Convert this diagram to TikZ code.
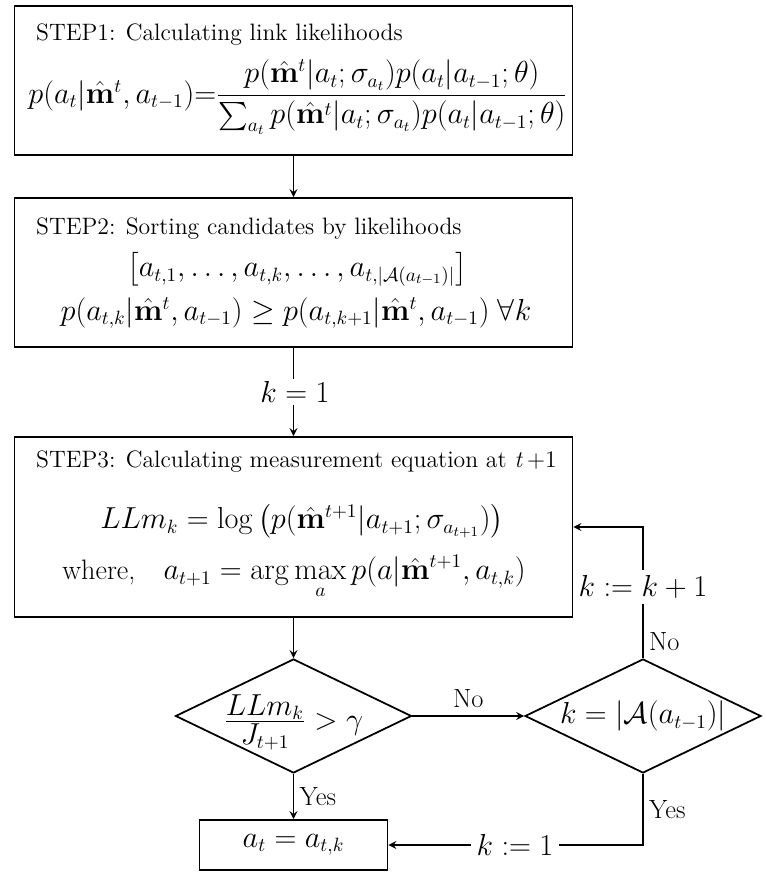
\documentclass[tikz,border=0pt]{standalone}
\usepackage{amsmath,amssymb}
\usetikzlibrary{shapes.geometric}
\begin{document}
\begin{tikzpicture}

      \tikzset{stepbox/.style={draw, line width=1pt, rectangle, minimum width=11.16cm, inner sep=0pt},
               decision/.style={draw, line width=1pt, diamond, aspect=2.07, minimum width=4.72cm, minimum height=2.28cm, inner sep=0pt, font=\fontsize{16}{19}\selectfont},
               txt/.style={font=\fontsize{13.5}{16}\selectfont, inner sep=1pt},
               lbl/.style={font=\fontsize{15}{18}\selectfont, inner sep=1pt},
               mth/.style={font=\fontsize{16}{19}\selectfont, inner sep=1pt},
               every edge/.style={draw, line width=1pt},
               >=stealth}
      \useasboundingbox (0,0) rectangle (15.32,17.44);
%% Boxes
      	\node[stepbox, minimum height=2.98cm] (s1) at (5.87,15.83) {};
      	\node[stepbox, minimum height=2.98cm] (s2) at (5.87,11.99) {};
      	\node[stepbox, minimum height=3.6cm] (s3) at (5.87,6.9) {};
      	\node[decision] (d1) at (5.87,3.12) {\smash{\raisebox{-7.5pt}{$\frac{\textstyle LLm_k}{\textstyle J_{t+1}} > \gamma$}}};
      	\node[decision] (d2) at (12.86,3.12) {$k = |\mathcal{A}(a_{t-1})|$};
      	\node[draw, line width=1pt, minimum width=3.76cm, minimum height=1cm, font=\fontsize{16}{19}\selectfont] (res) at (5.87,0.54) {$a_t = a_{t,k}$};
%% Texts in the boxes
      	\node[txt, anchor=west] (t1) at (0.68,16.74) {STEP1: Calculating link likelihoods};
      	\node[mth] (e1) at (5.96,15.5) {$p(a_t|\hat{\mathbf{m}}^t, a_{t-1}){=}\dfrac{p(\hat{\mathbf{m}}^t|a_t;\sigma_{a_t})p(a_t|a_{t-1};\theta)}{\sum_{a_t} p(\hat{\mathbf{m}}^t|a_t;\sigma_{a_t})p(a_t|a_{t-1};\theta)}$};
      	\node[txt, anchor=west] (t2) at (0.68,12.86) {STEP2: Sorting candidates by likelihoods};
      	\node[mth] (l2) at (5.94,12.06) {$\left[a_{t,1},\ldots,a_{t,k},\ldots,a_{t,|\mathcal{A}(a_{t-1})|}\right]$};
      	\node[mth] (e2) at (5.92,11.18) {$p(a_{t,k}|\hat{\mathbf{m}}^t, a_{t-1}) \geq p(a_{t,k+1}|\hat{\mathbf{m}}^t, a_{t-1})\;\forall k$};
      	\node[txt, anchor=west] (t3) at (0.68,8.2) {STEP3: Calculating measurement equation at \textit{t}\,+1};
      	\node[mth] (e3) at (6.04,7.02) {$LLm_k = \log\big(p(\hat{\mathbf{m}}^{t+1}|a_{t+1};\sigma_{a_{t+1}})\big)$};
      	\node[mth] (w3) at (5.88,5.9) {where,\quad $\displaystyle a_{t+1} = \arg\max_a p(a|\hat{\mathbf{m}}^{t+1}, a_{t,k})$};
%% Labels on the connectors
      	\node[mth] (k1) at (5.9,9.6) {$k = 1$};
      	\node[mth, inner sep=3pt] (kinc) at (12.86,5.7) {$k := k + 1$};
      	\node[mth, inner sep=3pt] (kone) at (10.3,0.54) {$k := 1$};
%Edges
		\path (s1) edge[->] (s2);
		\path (s2) edge (s2 |- k1.north);
		\path (s3 |- k1.south) edge[->] (s3);
		\path (s3) edge[->] (d1);
		\path (d1) edge[->] node[lbl, above=3pt] {No} (d2);
		\path (d1) edge[->] node[lbl, right=2pt] {Yes} (res);
		\path (d2) edge node[lbl, right=2pt, pos=0.3] {No} (kinc);
		\draw[->, line width=1pt] (kinc) |- (s3.east);
		\draw[line width=1pt] (d2) |- node[lbl, right=2pt, pos=0.25] {Yes} (kone);
		\path (kone) edge[->] (res);

	\end{tikzpicture}
\end{document}
